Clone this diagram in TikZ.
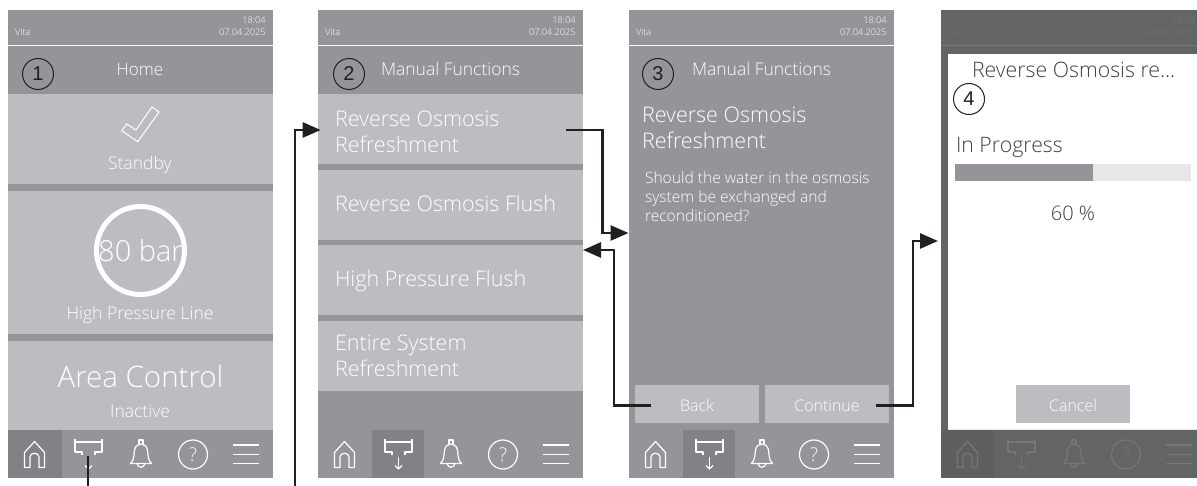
\documentclass[tikz,border=0pt]{standalone}
\usepackage{fontspec}
\setmainfont{Open Sans}[UprightFont=* Light]
\newfontfamily\numfont{Liberation Sans}
\usetikzlibrary{arrows.meta}
\definecolor{card}{HTML}{BBBDC0}
\definecolor{mid}{HTML}{939598}
\definecolor{act}{HTML}{808285}
\definecolor{dim}{HTML}{636466}
\definecolor{dimact}{HTML}{5E5F61}
\definecolor{dimline}{HTML}{757678}
\definecolor{soft}{HTML}{FFFFFF}
\definecolor{ink}{HTML}{231F20}
\definecolor{inktext}{HTML}{414042}
\definecolor{track}{HTML}{E6E7E8}
\newcommand{\fsz}[1]{\fontsize{#1}{#1}\selectfont}
\tikzset{
  x=1pt,y=-1pt,
  txt/.style={inner sep=0pt,outer sep=0pt,text=soft,anchor=base west},
  txtc/.style={txt,anchor=base},
  txtr/.style={txt,anchor=base east},
  num/.style={circle,draw=ink,line width=1pt,minimum size=31pt,inner sep=0pt,text=ink,font=\numfont\fsz{20}},
  flow/.style={draw=ink,line width=2.6pt,-{Triangle[length=18pt,width=15pt]}},
  plainflow/.style={draw=ink,line width=2.6pt},
  icon/.style={line width=1.2pt,line join=round}
}
% #1 x offset, #2 colour
\newcommand{\navicons}[2]{%
  \begin{scope}[shift={(#1,0)},draw=#2,icon]
    \draw (24.5,467.5) -- (24.5,452.5) -- (34.5,441.5) -- (44.5,452.5) -- (44.5,467.5) -- (39,467.5) -- (39,457) .. controls (39,452) and (30,452) .. (30,457) -- (30,467.5) -- cycle;
    \draw (75,439) -- (75,452) -- (82,452) -- (82,454.5);
    \draw (102,439) -- (102,452) -- (95,452) -- (95,454.5);
    \draw (75,442) -- (102,442);
    \draw (88.5,457) -- (88.5,469);
    \draw (85,465.5) -- (88.5,469) -- (92,465.5);
    \draw (130.5,463.5) .. controls (134.5,460) and (134,453) .. (134.5,450) .. controls (136,442) and (146,442) .. (147.5,450) .. controls (148,453) and (147.5,460) .. (151.5,463.5) -- cycle;
    \draw (139,444) -- (139,440) -- (143,440) -- (143,444);
    \draw (137,463.5) .. controls (138,468.5) and (144,468.5) .. (145,463.5);
    \draw (193,454.5) circle[radius=14.5];
    \node[inner sep=0pt,text=#2,font=\fsz{19}] at (193,454.5) {?};
    \draw (233,445) -- (259,445) (233,454.5) -- (259,454.5) (233,463.5) -- (259,463.5);
  \end{scope}}
% #1 x offset
\newcommand{\headerbar}[1]{%
  \begin{scope}[shift={(#1,0)}]
    \node[txt,font=\fsz{9.2}] at (15,36) {Vita};
    \node[txtr,font=\fsz{9.2}] at (265.5,24) {18:04};
    \node[txtr,font=\fsz{9.2}] at (265.5,36) {07.04.2025};
  \end{scope}}
\begin{document}
\begin{tikzpicture}
\useasboundingbox (0,0) rectangle (1197,486);
% ---------- panel 1
\fill[mid] (8,10) rectangle (273,478);
\fill[white] (8,45) rectangle (273,46);
\fill[card] (8,94) rectangle (273,184);
\fill[card] (8,191) rectangle (273,334);
\fill[card] (8,341) rectangle (273,430);
\fill[act] (8,430) rectangle (62,478);
\headerbar{0}
\node[txtc,font=\fsz{17}] (homeT) at (140,76) {Home};
\node[num] (n1) at (38,74) {1};
\draw[soft,line width=1pt,line join=miter] (121.7,130.7) -- (137.7,141.7) -- (159,112) -- (152,107) -- (136,130) -- (126.7,124) -- cycle;
\node[txtc,font=\fsz{17.5}] (standby) at (140,170) {Standby};
\draw[soft,line width=5pt] (140.5,250.5) circle[radius=44];
\node[txtc,font=\fsz{29}] (bar) at (140.5,262) {80 bar};
\node[txtc,font=\fsz{17.5}] (hpl) at (140,320) {High Pressure Line};
\node[txtc,font=\fsz{29.5}] (area) at (140.5,387) {Area Control};
\node[txtc,font=\fsz{17.5}] (inact) at (140,417) {Inactive};
\navicons{0}{soft}
% ---------- panel 2
\fill[mid] (318,10) rectangle (583,478);
\fill[white] (318,45) rectangle (583,46);
\fill[card] (318,94) rectangle (583,164);
\fill[card] (318,170) rectangle (583,240);
\fill[card] (318,245.5) rectangle (583,315);
\fill[card] (318,321) rectangle (583,391);
\fill[act] (372,430) rectangle (424,478);
\headerbar{310}
\node[num] (n2) at (349,74) {2};
\node[txt,font=\fsz{17.5}] (mf2) at (381,76) {Manual Functions};
\node[txt,font=\fsz{21.5}] (ro1) at (335,127) {Reverse Osmosis};
\node[txt,font=\fsz{21.5}] (ro2) at (335,153) {Refreshment};
\node[txt,font=\fsz{21.5}] (rof) at (335,212) {Reverse Osmosis Flush};
\node[txt,font=\fsz{21.5}] (hpf) at (335,287) {High Pressure Flush};
\node[txt,font=\fsz{21.5}] (es1) at (335,351) {Entire System};
\node[txt,font=\fsz{21.5}] (es2) at (335,377) {Refreshment};
\navicons{310}{soft}
% ---------- panel 3
\fill[mid] (629,10) rectangle (894,478);
\fill[white] (629,45) rectangle (894,46);
\fill[act] (683,430) rectangle (735,478);
\headerbar{621}
\node[num] (n3) at (658,74) {3};
\node[txt,font=\fsz{17.5}] (mf3) at (692,76) {Manual Functions};
\node[txt,font=\fsz{21.5}] (t31) at (642,123) {Reverse Osmosis};
\node[txt,font=\fsz{21.5}] (t32) at (642,149) {Refreshment};
\node[txt,font=\fsz{15.6}] (q1) at (645,184) {Should the water in the osmosis};
\node[txt,font=\fsz{15.6}] (q2) at (645,203) {system be exchanged and};
\node[txt,font=\fsz{15.6}] (q3) at (645,222) {reconditioned?};
\fill[card] (635,385) rectangle (759,423);
\fill[card] (765,385) rectangle (889,423);
\node[txtc,font=\fsz{16}] (back) at (697,411) {Back};
\node[txtc,font=\fsz{16}] (cont) at (827,411) {Continue};
\navicons{621}{soft}
% ---------- panel 4
\fill[dim] (941,10) rectangle (1197,478);
\fill[dimline] (941,45) rectangle (1197,46);
\fill[white] (948,54) rectangle (1197,429);
\fill[track] (948,429) rectangle (1197,430);
\fill[dimact] (941,430) rectangle (994,478);
\begin{scope}
  \clip (941,10) rectangle (1197,54);
  \node[txt,text=dimline,font=\fsz{9.2}] (dl) at (948,36) {DL};
  \node[txt,text=dimline,font=\fsz{9.2}] (t4) at (1172,24) {18:04};
  \node[txt,text=dimline,font=\fsz{9.2}] (d4) at (1145,36) {07.04.2025};
\end{scope}
\node[txt,text=inktext,font=\fsz{21.3}] (t41) at (972,78) {Reverse Osmosis re...};
\node[num] (n4) at (969,99) {4};
\node[txt,text=inktext,font=\fsz{21.3}] (prog) at (956,153) {In Progress};
\fill[track] (955,164) rectangle (1191,181);
\fill[mid] (955,164) rectangle (1093,181);
\node[txtc,text=inktext,font=\fsz{20}] (pct) at (1073,221) {60 \%};
\fill[card] (1016,385) rectangle (1130,423);
\node[txtc,font=\fsz{16}] (cancel) at (1073,411) {Cancel};
\navicons{933}{dimline}
% ---------- connectors
\coordinate (a1) at (88,456);
\coordinate (a1e) at (88,486);
\coordinate (a2s) at (295,486);
\coordinate (a2t) at (320.7,130);
\coordinate (a3s) at (566,130);
\coordinate (a3t) at (628.5,233);
\coordinate (a4s) at (651,405.5);
\coordinate (a4t) at (583,250);
\coordinate (a5s) at (876,405.5);
\coordinate (a5t) at (938,241);
\draw[plainflow] (a1) -- (a1e);
\draw[flow] (a2s) |- (a2t);
\draw[flow] (a3s) -- (602.5,130) |- (a3t);
\draw[flow] (a4s) -- (614,405.5) |- (a4t);
\draw[flow] (a5s) -- (913,405.5) |- (a5t);
\end{tikzpicture}
\end{document}
